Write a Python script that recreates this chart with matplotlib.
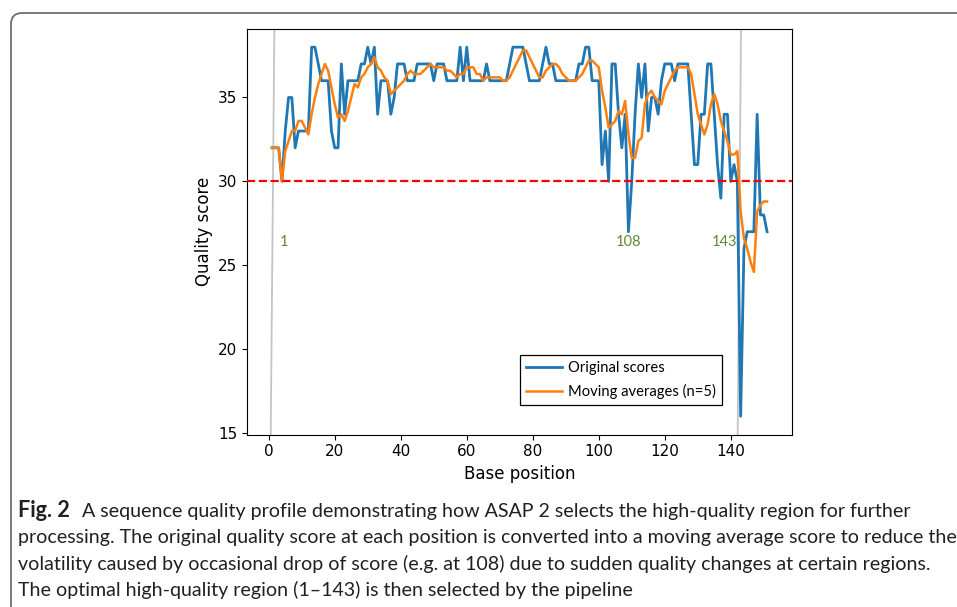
import matplotlib
matplotlib.use("Agg")
import matplotlib.pyplot as plt
from matplotlib.patches import FancyBboxPatch
from matplotlib.transforms import IdentityTransform

# quality score per base position
positions = list(range(1, 152))
original_scores = [
    32, 32, 32, 30, 33, 35, 35, 32, 33, 33,
    33, 33, 38, 38, 37, 36, 36, 36, 33, 32,
    32, 37, 34, 36, 36, 36, 36, 37, 37, 38,
    37, 38, 34, 36, 36, 36, 34, 35, 37, 37,
    37, 36, 36, 36, 37, 37, 37, 37, 37, 36,
    37, 37, 37, 36, 36, 36, 36, 38, 36, 38,
    36, 36, 36, 36, 36, 37, 36, 36, 36, 36,
    36, 36, 37, 38, 38, 38, 38, 37, 36, 36,
    36, 36, 37, 38, 37, 37, 36, 36, 36, 36,
    36, 36, 36, 37, 37, 38, 38, 36, 36, 36,
    31, 33, 30, 37, 37, 34, 32, 34, 27, 30,
    34, 37, 35, 37, 33, 35, 35, 34, 36, 37,
    37, 37, 36, 37, 37, 37, 37, 34, 31, 31,
    34, 34, 37, 37, 34, 31, 29, 34, 34, 30,
    31, 30, 16, 26, 27, 27, 27, 34, 28, 28,
    27,
]
moving_averages = [
    32.0, 32.0, 32.0, 30.0, 31.8, 32.4, 33.0, 33.0, 33.6, 33.6,
    33.2, 32.8, 34.0, 35.0, 35.8, 36.4, 37.0, 36.6, 35.6, 34.6,
    33.8, 34.0, 33.6, 34.2, 35.0, 35.8, 35.6, 36.2, 36.4, 36.8,
    37.0, 37.4, 36.8, 36.6, 36.2, 36.0, 35.2, 35.4, 35.6, 35.8,
    36.0, 36.4, 36.6, 36.4, 36.4, 36.4, 36.6, 36.8, 37.0, 36.8,
    36.8, 36.8, 36.8, 36.6, 36.6, 36.4, 36.2, 36.4, 36.4, 36.8,
    36.8, 36.8, 36.4, 36.4, 36.0, 36.2, 36.2, 36.2, 36.2, 36.2,
    36.0, 36.0, 36.2, 36.6, 37.0, 37.4, 37.8, 37.8, 37.4, 37.0,
    36.6, 36.2, 36.2, 36.6, 36.8, 37.0, 37.0, 36.8, 36.4, 36.2,
    36.0, 36.0, 36.0, 36.2, 36.4, 36.8, 37.2, 37.2, 37.0, 36.8,
    35.4, 34.4, 33.2, 33.4, 33.6, 34.2, 34.0, 34.8, 32.8, 31.4,
    31.4, 32.4, 32.6, 34.6, 35.2, 35.4, 35.0, 34.8, 34.6, 35.4,
    35.8, 36.2, 36.6, 36.8, 36.8, 36.8, 36.8, 36.4, 35.2, 34.0,
    33.4, 32.8, 33.4, 34.6, 35.2, 34.6, 33.6, 33.0, 32.4, 31.6,
    31.6, 31.8, 28.2, 26.6, 26.0, 25.2, 24.6, 28.2, 28.6, 28.8,
    28.8,
]
threshold = 30

# grey cut lines (slightly slanted in the original)
cut_bottom = [0.6, 142.1]
cut_top = [1.7, 143.1]

mark_labels = ["1", "108", "143"]
mark_x = [4.7, 109.1, 138.1]
mark_y = 26.4

xticks = [0, 20, 40, 60, 80, 100, 120, 140]
yticks = [15, 20, 25, 30, 35]

caption_head = "Fig. 2"
caption_lines = [
    "A sequence quality profile demonstrating how ASAP 2 selects the high-quality region for further",
    "processing. The original quality score at each position is converted into a moving average score to reduce the",
    "volatility caused by occasional drop of score (e.g. at 108) due to sudden quality changes at certain regions.",
    "The optimal high-quality region (1\u2013143) is then selected by the pipeline",
]

W, H = 957, 607
fig = plt.figure(figsize=(W / 100, H / 100), dpi=100)

# rounded frame around figure + caption
frame = FancyBboxPatch((11, -30), 1100, H - 13 + 30,
                       boxstyle="round,pad=0,rounding_size=11",
                       transform=IdentityTransform(), fill=False,
                       edgecolor="#6e6e6e", linewidth=1.3)
fig.patches.append(frame)

ax = fig.add_axes([247.3 / W, 1 - 434.7 / H, 544.5 / W, 406 / H])

for xb, xt in zip(cut_bottom, cut_top):
    ax.plot([xb, xt], [14.9, 39.1], color="#c4c4c4", lw=1.3, zorder=1)

ax.plot(positions, original_scores, color="#1f77b4", lw=2.0,
        label="Original scores", zorder=2)
ax.plot(positions, moving_averages, color="#ff7f0e", lw=1.8,
        label="Moving averages (n=5)", zorder=3)
ax.axhline(threshold, color="red", ls="--", lw=1.6, zorder=4)

for lab, xx in zip(mark_labels, mark_x):
    ax.text(xx, mark_y, lab, color="#5b8a3c", fontsize=10.5, family="Lato",
            ha="center", va="center")

ax.set_xlim(-6.5, 158.5)
ax.set_ylim(14.9, 39.1)
ax.set_xticks(xticks)
ax.set_yticks(yticks)
ax.tick_params(labelsize=11)
ax.set_xlabel("Base position", fontsize=12)
ax.set_ylabel("Quality score", fontsize=12)

leg = ax.legend(loc="lower right", bbox_to_anchor=(0.872, 0.073),
                borderaxespad=0, fancybox=False, framealpha=1,
                prop={"family": "Lato", "size": 10.6},
                handlelength=2.5, handletextpad=0.4, labelspacing=0.6)
leg.get_frame().set_edgecolor("black")
leg.get_frame().set_linewidth(0.9)

# caption, sized so the second line fills the width like the original
renderer = fig.canvas.get_renderer()
size = 13
probe = fig.text(0, 0, caption_lines[1], family="Lato", fontsize=size)
w = probe.get_window_extent(renderer).width
probe.remove()
size = size * 935 / w

left = 18
base = 517
step = 26.4
fig.text(left / W, 1 - base / H, caption_head, family="Lato",
         weight="bold", fontsize=size * 1.1, color="#231f20", va="baseline")
for i, line in enumerate(caption_lines):
    x0 = 82 if i == 0 else left
    fig.text(x0 / W, 1 - (base + i * step) / H, line, family="Lato",
             fontsize=size, color="#231f20", va="baseline")

fig.savefig("out.png", dpi=100)
